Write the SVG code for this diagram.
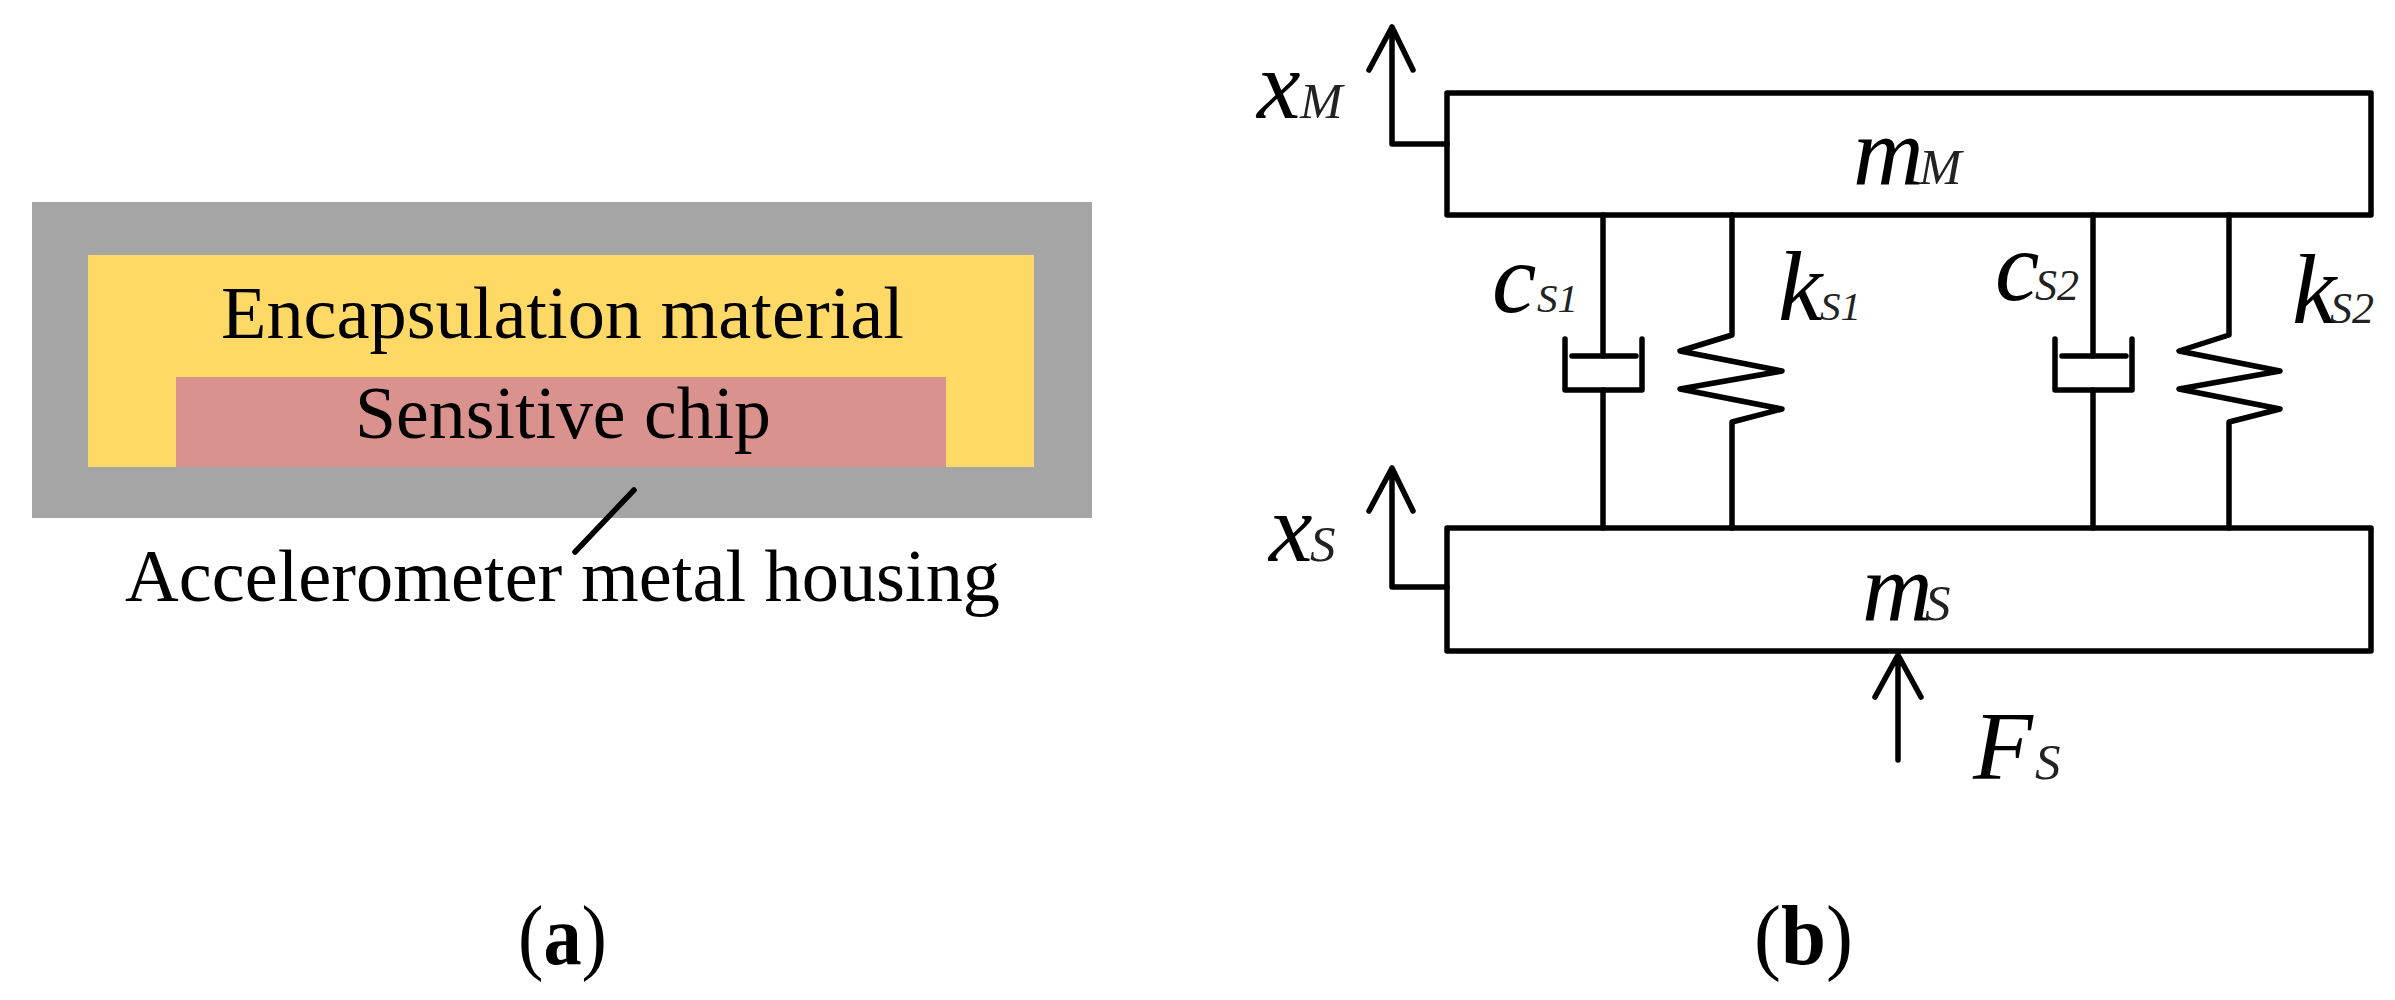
<svg xmlns="http://www.w3.org/2000/svg" width="2395" height="1000" viewBox="0 0 2395 1000">
<style>
text{font-family:"Liberation Serif","Times New Roman",serif;fill:#000}
.l{font-size:75px}
.i{font-style:italic}
.s{font-size:41px;fill:#222}
.s2{font-size:44px;fill:#222}
.sm{font-size:51px;fill:#222}
.m{font-size:98px}
.c{font-size:100px}
.h{stroke:#000;stroke-width:5.5;fill:none;stroke-linecap:round;stroke-linejoin:round}
.b{font-weight:bold}
</style>
<rect width="2395" height="1000" fill="#fff"/>
<g id="housing"><rect x="32" y="202" width="1060" height="316" fill="#a5a5a5"/></g>
<g id="encapsulation"><rect x="88" y="255" width="946" height="212" fill="#ffd966"/>
<text class="l" x="221" y="338" textLength="683" lengthAdjust="spacingAndGlyphs">Encapsulation material</text></g>
<g id="chip"><rect x="176" y="377" width="770" height="90" fill="#d9928d"/>
<text class="l" x="355" y="438" textLength="416" lengthAdjust="spacingAndGlyphs">Sensitive chip</text></g>
<g id="housing-label"><text class="l" x="125" y="601" textLength="875" lengthAdjust="spacingAndGlyphs">Accelerometer metal housing</text></g>
<g id="connectors">
<path class="h" d="M634 490L575 552"/>
<path class="h" d="M1369 70L1392 27L1413 70M1392 27V144H1447"/>
<path class="h" d="M1369 511L1392 468L1413 511M1392 468V587H1447"/>
<path class="h" d="M1875 697L1898 655L1921 697M1898 655V760"/>
<path class="h" d="M1603 215V356M1603 390V528M2093 215V356M2093 390V528"/>
<path class="h" d="M1732 215V335L1680 351L1782 371L1680 389L1782 409L1732 422V528"/>
<path class="h" d="M2229 215V335L2179 351L2280 371L2179 389L2280 409L2229 422V528"/>
</g>
<g id="mass-m"><rect class="h" x="1447" y="93" width="924" height="122"/>
<text class="m i" x="1853" y="184">m<tspan class="sm" x="1919">M</tspan></text></g>
<g id="mass-s"><rect class="h" x="1447" y="528" width="924" height="123"/>
<text class="m i" x="1862" y="620">m<tspan class="sm" x="1925">S</tspan></text></g>
<g id="damper-1"><path class="h" d="M1565 339V390H1642V339M1572 356H1636"/>
<text class="c i" x="1492" y="312">c<tspan class="s" x="1537">S1</tspan></text></g>
<g id="damper-2"><path class="h" d="M2055 339V390H2132V339M2062 356H2126"/>
<text class="c i" x="1995" y="300">c<tspan class="s2" x="2035">S2</tspan></text></g>
<g id="spring-1"><text class="c i" x="1778" y="320">k<tspan class="s" x="1820">S1</tspan></text></g>
<g id="spring-2"><text class="c i" x="2292" y="323">k<tspan class="s2" x="2330">S2</tspan></text></g>
<g id="x-m"><text class="m i" x="1257" y="118">x<tspan class="sm" x="1300">M</tspan></text></g>
<g id="x-s"><text class="m i" x="1269" y="561">x<tspan class="sm" x="1310">S</tspan></text></g>
<g id="force"><text class="m i" x="1973" y="779">F<tspan class="sm" x="2035">S</tspan></text></g>
<g id="caption-a"><text font-size="84" x="518" y="964" textLength="89" lengthAdjust="spacingAndGlyphs">(<tspan class="b">a</tspan>)</text></g>
<g id="caption-b"><text font-size="84" x="1754" y="964" textLength="99" lengthAdjust="spacingAndGlyphs">(<tspan class="b">b</tspan>)</text></g>
</svg>
